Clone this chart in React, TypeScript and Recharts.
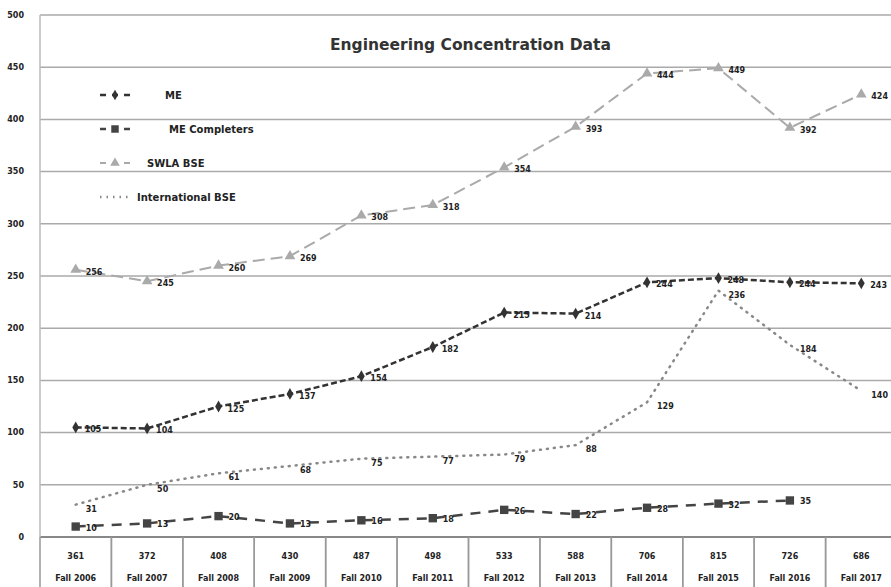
import { LineChart, Line, XAxis, YAxis, CartesianGrid, Legend, LabelList, Symbols } from "recharts";

const years = [
  "Fall 2006", "Fall 2007", "Fall 2008", "Fall 2009", "Fall 2010", "Fall 2011",
  "Fall 2012", "Fall 2013", "Fall 2014", "Fall 2015", "Fall 2016", "Fall 2017",
];
const totals = [361, 372, 408, 430, 487, 498, 533, 588, 706, 815, 726, 686];
const me = [105, 104, 125, 137, 154, 182, 215, 214, 244, 248, 244, 243];
const meCompleters = [10, 13, 20, 13, 16, 18, 26, 22, 28, 32, 35, null];
const swlaBse = [256, 245, 260, 269, 308, 318, 354, 393, 444, 449, 392, 424];
const intlBse = [31, 50, 61, 68, 75, 77, 79, 88, 129, 236, 184, 140];
const yTicks = [0, 50, 100, 150, 200, 250, 300, 350, 400, 450, 500];
const legendOrder = ["me", "meCompleters", "swlaBse", "intlBse"];

const data = years.map((year, i) => ({
  year,
  total: totals[i],
  me: me[i],
  meCompleters: meCompleters[i],
  swlaBse: swlaBse[i],
  intlBse: intlBse[i],
}));

const FONT = "'DejaVu Sans', Verdana, sans-serif";

// marker + line look for each series
const looks: Record<string, { color: string; dash: string; width: number; marker?: any; size: number; gap: number }> = {
  me: { color: "#333", dash: "6 3", width: 2.5, marker: "diamond", size: 40, gap: 33 },
  meCompleters: { color: "#444", dash: "10 8", width: 2.5, marker: "square", size: 70, gap: 37 },
  swlaBse: { color: "#aaa", dash: "12 6", width: 2, marker: "triangle", size: 50, gap: 15 },
  intlBse: { color: "#888", dash: "1 6", width: 2.5, size: 0, gap: 5 },
};

const makeDot = (key: string) => (props: any) => {
  const l = looks[key];
  const { cx, cy, index, value } = props;
  if (!l.marker || cx == null || cy == null || value == null) return <g key={`${key}-${index}`} />;
  return (
    <Symbols key={`${key}-${index}`} cx={cx} cy={cy} type={l.marker} size={l.size} fill={l.color} stroke="none" />
  );
};

const valueLabel = (dx: number, dy: number) => (props: any) => {
  const { x, y, value } = props;
  if (value == null) return null;
  return (
    <text x={x + dx} y={y + dy} fontSize={8} fontWeight="bold" fontFamily={FONT} fill="#222">
      {value}
    </text>
  );
};

const TableTick = (props: any) => {
  const { x, y, payload, index } = props;
  const half = 35.7;
  return (
    <g>
      <line x1={x - half} x2={x - half} y1={y} y2={y + 52} stroke="#999" strokeWidth={1.5} />
      <line x1={x + half} x2={x + half} y1={y} y2={y + 52} stroke="#999" strokeWidth={1.5} />
      <text x={x} y={y + 22} textAnchor="middle" fontSize={8} fontWeight="bold" fontFamily={FONT} fill="#222">
        {totals[index]}
      </text>
      <text x={x} y={y + 44} textAnchor="middle" fontSize={8} fontWeight="bold" fontFamily={FONT} fill="#222">
        {payload.value}
      </text>
    </g>
  );
};

const LegendBox = (props: any) => {
  const items = [...(props.payload || [])].sort(
    (a: any, b: any) => legendOrder.indexOf(a.dataKey) - legendOrder.indexOf(b.dataKey)
  );
  return (
    <div style={{ fontFamily: FONT, fontSize: 10, fontWeight: "bold", color: "#222" }}>
      {items.map((it: any) => {
        const l = looks[it.dataKey];
        return (
          <div key={it.dataKey} style={{ display: "flex", alignItems: "center", height: 34 }}>
            <svg width={32} height={12}>
              <line x1={0} x2={30} y1={6} y2={6} stroke={l.color} strokeWidth={l.width} strokeDasharray={it.dataKey === "intlBse" ? "1.5 5" : "6 6"} />
              {l.marker && <Symbols cx={15} cy={6} type={l.marker} size={l.size * 0.8} fill={l.color} />}
            </svg>
            <span style={{ marginLeft: l.gap }}>{it.value}</span>
          </div>
        );
      })}
    </div>
  );
};

export default function App() {
  return (
    <div style={{ position: "absolute", left: 0, top: 0, width: 891, height: 587, overflow: "hidden", background: "#fff" }}>
      <div
        style={{
          position: "absolute", left: 330, top: 36, fontFamily: FONT, fontSize: 15.5,
          fontWeight: "bold", color: "#333", zIndex: 2,
        }}
      >
        Engineering Concentration Data
      </div>
      <LineChart width={897} height={587} data={data} margin={{ top: 15, right: 0, bottom: 0, left: 0 }}>
        <CartesianGrid vertical={false} stroke="#aaa" strokeWidth={1.5} />
        <XAxis
          dataKey="year"
          height={50}
          tickSize={0}
          tickMargin={0}
          interval={0}
          padding={{ left: 35.7, right: 35.7 }}
          axisLine={{ stroke: "#888", strokeWidth: 2 }}
          tick={<TableTick />}
        />
        <YAxis
          width={40}
          domain={[0, 500]}
          ticks={yTicks}
          tickLine={false}
          tickMargin={10}
          axisLine={{ stroke: "#bbb", strokeWidth: 1.5 }}
          tick={{ fontSize: 8, fontWeight: "bold", fontFamily: FONT, fill: "#222" }}
        />
        <Legend
          layout="vertical"
          align="center"
          verticalAlign="middle"
          wrapperStyle={{ left: 100, top: 78, width: 200 }}
          content={<LegendBox />}
        />
        <Line
          dataKey="me"
          name="ME"
          stroke={looks.me.color}
          strokeWidth={looks.me.width}
          strokeDasharray={looks.me.dash}
          dot={makeDot("me")}
          isAnimationActive={false}
        >
          <LabelList dataKey="me" content={valueLabel(9, 5)} />
        </Line>
        <Line
          dataKey="meCompleters"
          name="ME Completers"
          stroke={looks.meCompleters.color}
          strokeWidth={looks.meCompleters.width}
          strokeDasharray={looks.meCompleters.dash}
          dot={makeDot("meCompleters")}
          isAnimationActive={false}
        >
          <LabelList dataKey="meCompleters" content={valueLabel(10, 4)} />
        </Line>
        <Line
          dataKey="swlaBse"
          name="SWLA BSE"
          stroke={looks.swlaBse.color}
          strokeWidth={looks.swlaBse.width}
          strokeDasharray={looks.swlaBse.dash}
          dot={makeDot("swlaBse")}
          isAnimationActive={false}
        >
          <LabelList dataKey="swlaBse" content={valueLabel(10, 5)} />
        </Line>
        <Line
          dataKey="intlBse"
          name="International BSE"
          stroke={looks.intlBse.color}
          strokeWidth={looks.intlBse.width}
          strokeDasharray={looks.intlBse.dash}
          strokeLinecap="round"
          dot={false}
          isAnimationActive={false}
        >
          <LabelList dataKey="intlBse" content={valueLabel(10, 7)} />
        </Line>
      </LineChart>
    </div>
  );
}
